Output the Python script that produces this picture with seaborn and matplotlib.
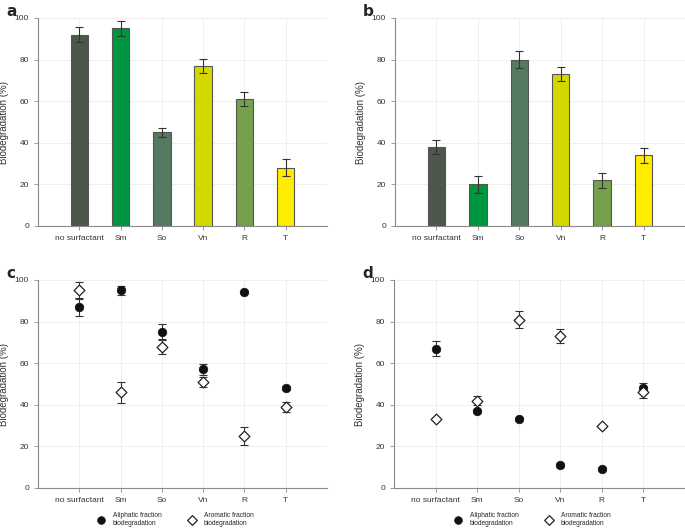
import numpy as np
import pandas as pd
import matplotlib
matplotlib.use("Agg")
import matplotlib.pyplot as plt
import seaborn as sns

categories = ["no surfactant", "Sm", "So", "Vn", "R", "T"]
bar_colors = ["#4e574b", "#00963f", "#547b5f", "#d3d800", "#76a04b", "#ffec00"]

# panel a / b: total biodegradation
a_vals = [92, 95, 45, 77, 61, 28]
a_err = [3.5, 3.5, 2, 3.5, 3.5, 4]
b_vals = [38, 20, 80, 73, 22, 34]
b_err = [3.5, 4, 4, 3.5, 3.5, 3.5]

# panel c / d: fractions
c_aliph = [87, 95, 75, 57, 94, 48]
c_aliph_err = [4.5, 2, 4, 2.5, 0, 1]
c_arom = [95, 46, 68, 51, 25, 39]
c_arom_err = [4, 5, 3.5, 2.5, 4.5, 2.5]
d_aliph = [67, 37, 33, 11, 9, 48]
d_aliph_err = [3.5, 0.5, 0.5, 0.5, 0.5, 2.5]
d_arom = [33, 42, 81, 73, 30, 46]
d_arom_err = [0.5, 2, 4, 3.5, 0.5, 2.5]

sns.set_style("white")
plt.rcParams["font.family"] = ["Liberation Sans", "DejaVu Sans"]

fig = plt.figure(figsize=(6.85, 5.28), dpi=100)
W, H = 685, 528


def box(l, t, r, b):
    return [l / W, 1 - b / H, (r - l) / W, (b - t) / H]


def style(ax, letter):
    ax.set_xlim(-1, 6)
    ax.set_ylim(0, 100)
    ax.set_yticks([0, 20, 40, 60, 80, 100])
    ax.set_xticks(range(len(categories)))
    ax.set_xticklabels(categories)
    ax.grid(True, color="#ececec", linewidth=0.6)
    ax.set_axisbelow(True)
    for s in ["top", "right"]:
        ax.spines[s].set_visible(False)
    for s in ["left", "bottom"]:
        ax.spines[s].set_color("#8a8a8a")
        ax.spines[s].set_linewidth(0.8)
    ax.tick_params(axis="both", labelsize=6, length=3, width=0.6,
                   direction="out", bottom=True, left=True,
                   colors="#8a8a8a", labelcolor="#333333")
    ax.set_xlabel("")
    ax.set_ylabel("Biodegradation (%)", fontsize=7, color="#333333")
    ax.text(-0.11, 1.03, letter, transform=ax.transAxes, fontsize=11,
            fontweight="bold", va="center", ha="left", family="DejaVu Sans")


def bars(ax, vals, err, letter):
    df = pd.DataFrame({"cat": categories, "val": vals})
    sns.barplot(data=df, x="cat", y="val", hue="cat", palette=bar_colors,
                order=categories, width=0.42, edgecolor="#555555",
                linewidth=0.8, saturation=1, legend=False, ax=ax)
    ax.errorbar(range(len(categories)), vals, yerr=err, fmt="none",
                ecolor="#333333", elinewidth=0.8, capsize=3, capthick=0.8)
    style(ax, letter)


def points(ax, aliph, aliph_err, arom, arom_err, letter):
    df = pd.DataFrame({"cat": categories, "aliph": aliph, "arom": arom})
    x = np.arange(len(categories))
    ax.errorbar(x, aliph, yerr=aliph_err, fmt="none", ecolor="#333333",
                elinewidth=0.8, capsize=3, capthick=0.8, zorder=2)
    ax.errorbar(x, arom, yerr=arom_err, fmt="none", ecolor="#333333",
                elinewidth=0.8, capsize=3, capthick=0.8, zorder=2)
    sns.scatterplot(data=df, x="cat", y="aliph", marker="o", s=38,
                    color="#111111", edgecolor="#111111",
                    label="Aliphatic fraction\nbiodegradation", ax=ax, zorder=3)
    sns.scatterplot(data=df, x="cat", y="arom", marker="D", s=30,
                    color="white", edgecolor="#222222", linewidth=0.9,
                    label="Aromatic fraction\nbiodegradation", ax=ax, zorder=4)
    style(ax, letter)
    ax.legend(loc="center", bbox_to_anchor=(0.47, -0.15), ncol=2,
              frameon=False, fontsize=4.8, handletextpad=0.8,
              columnspacing=3.5, markerscale=0.9)


ax_a = fig.add_axes(box(38, 18, 327, 226))
ax_b = fig.add_axes(box(395, 18, 685, 226))
ax_c = fig.add_axes(box(38, 280, 327, 488))
ax_d = fig.add_axes(box(394, 280, 685, 488))

bars(ax_a, a_vals, a_err, "a")
bars(ax_b, b_vals, b_err, "b")
points(ax_c, c_aliph, c_aliph_err, c_arom, c_arom_err, "c")
points(ax_d, d_aliph, d_aliph_err, d_arom, d_arom_err, "d")

fig.savefig("out.png", dpi=100)
